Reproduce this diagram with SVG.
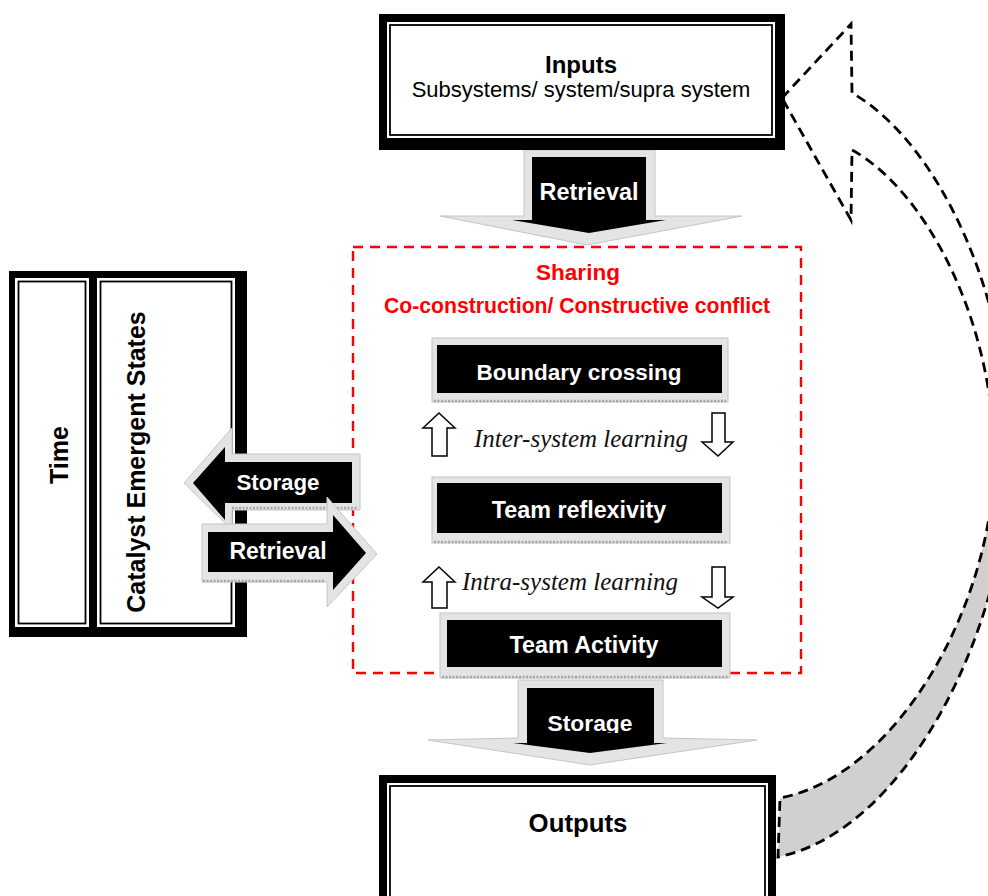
<svg xmlns="http://www.w3.org/2000/svg" width="988" height="896" viewBox="0 0 988 896">
<defs>
<style>
.blk{fill:#000}
.pane{fill:#fff}
.thin{fill:none;stroke:#000;stroke-width:1.8}
.lbl{font-family:"Liberation Sans",Arial,sans-serif;font-weight:bold;text-anchor:middle}
.wt{fill:#fff}
.bevel{fill:#e4e4e4;stroke:#c4c4c4;stroke-width:1}
.bline{fill:none;stroke:#a6a6a6;stroke-width:2.5;stroke-dasharray:2 1.5}
.oarr{fill:#fff;stroke:#000;stroke-width:1.5;stroke-linejoin:miter}
.ital{font-family:"Liberation Serif","Times New Roman",serif;font-style:italic;font-size:25px;fill:#111}
.red{fill:#f00}
.dash{fill:none;stroke:#000;stroke-width:2.8;stroke-dasharray:10 6}
</style>
<clipPath id="clipStor"><rect x="510" y="680" width="160" height="53"/></clipPath>
</defs>
<rect width="988" height="896" fill="#fff"/>

<g id="connectors">
  <g id="feedback-arrow">
    <path d="M1010,455 C1010,620 910,830 778,857 L780,798 C900,775 994,600 994,459 Z" fill="#d0d0d0"/>
    <path class="dash" d="M782,98 L851,24 L852,93 C935,140 1010,290 1010,455 C1010,620 910,830 778,857 L780,798 C900,775 994,600 994,459 C994,320 925,190 852,150 L851,220 Z"/>
  </g>
  <g id="retrieval-top">
    <polygon class="bevel" points="524,150 655,150 655,216 742,216 587,245 440,216 524,216"/>
    <polygon class="blk" points="532,157 646,157 646,220 666,220 589,233 512,220 532,220"/>
    <text class="lbl wt" x="589" y="200" font-size="23.4">Retrieval</text>
  </g>
  <g id="storage-bottom">
    <polygon class="bevel" points="518,680 663,680 663,738 757,740 590,765 428,740 518,738"/>
    <polygon class="blk" points="527,688 654,688 654,743 667,743 590,753 513,743 527,743"/>
    <text class="lbl wt" x="590" y="731" font-size="22.8" clip-path="url(#clipStor)">Storage</text>
  </g>
  <g id="inter-arrows">
    <polygon class="oarr" points="439,413 455,428 447,428 447,456 432,456 432,428 423,428"/>
    <polygon class="oarr" points="712,413 725,413 725,442 733,442 718,456 702,442 712,442"/>
    <polygon class="oarr" points="439,567 455,582 447,582 447,608 432,608 432,582 423,582"/>
    <polygon class="oarr" points="712,567 725,567 725,597 733,597 718,608 702,597 712,597"/>
  </g>
</g>

<g id="inputs">
  <rect class="blk" x="379" y="14" width="406" height="136"/>
  <rect class="pane" x="387" y="22" width="388" height="116"/>
  <rect class="thin" x="390" y="25" width="382" height="110"/>
  <text class="lbl" x="581" y="73" font-size="24">Inputs</text>
  <text x="581" y="97" font-family="Liberation Sans,Arial,sans-serif" font-size="22" text-anchor="middle">Subsystems/ system/supra system</text>
</g>

<g id="sharing">
  <rect x="353" y="247" width="448" height="426" fill="none" stroke="#f00" stroke-width="2.4" stroke-dasharray="10 7"/>
  <text class="lbl red" x="578" y="280" font-size="22.5">Sharing</text>
  <text class="lbl red" x="577" y="313" font-size="21.2">Co-construction/ Constructive conflict</text>
</g>

<g id="boundary-crossing">
  <rect class="bevel" x="432" y="338" width="296" height="64"/>
  <line class="bline" x1="434" y1="401" x2="726" y2="401"/>
  <rect class="blk" x="437" y="345" width="285" height="48"/>
  <text class="lbl wt" x="579" y="380" font-size="22.5">Boundary crossing</text>
</g>
<text class="ital" x="474" y="447">Inter-system learning</text>

<g id="team-reflexivity">
  <rect class="bevel" x="432" y="477" width="298" height="66"/>
  <line class="bline" x1="434" y1="542" x2="728" y2="542"/>
  <rect class="blk" x="437" y="483" width="285" height="50"/>
  <text class="lbl wt" x="579" y="518" font-size="23.3">Team reflexivity</text>
</g>
<text class="ital" x="462" y="590">Intra-system learning</text>

<g id="team-activity">
  <rect class="bevel" x="440" y="613" width="290" height="65"/>
  <line class="bline" x1="442" y1="677" x2="728" y2="677"/>
  <rect class="blk" x="447" y="620" width="275" height="47"/>
  <text class="lbl wt" x="584" y="653" font-size="23.3">Team Activity</text>
</g>

<g id="outputs">
  <rect class="blk" x="379" y="775" width="397" height="130"/>
  <rect class="pane" x="387" y="783" width="381" height="122"/>
  <rect class="thin" x="390" y="786" width="375" height="116"/>
  <text class="lbl" x="578" y="832" font-size="25.8">Outputs</text>
</g>

<g id="time-catalyst">
  <rect class="blk" x="9" y="271" width="238" height="366"/>
  <rect class="pane" x="15" y="278" width="74" height="349"/>
  <rect class="thin" x="18.5" y="281.5" width="67" height="342"/>
  <rect class="pane" x="97" y="278" width="138" height="349"/>
  <rect class="thin" x="100.5" y="281.5" width="131" height="342"/>
  <text class="lbl" transform="translate(68,455) rotate(-90)" font-size="25">Time</text>
  <text class="lbl" transform="translate(145,462) rotate(-90)" font-size="25">Catalyst Emergent States</text>
</g>

<g id="storage-left">
  <polygon class="bevel" points="184,483 232,428 232,454 360,454 360,510 232,510 232,530"/>
  <line class="bline" x1="232" y1="508" x2="358" y2="508"/>
  <polygon class="blk" points="193,483 225,447 225,462 352,462 352,503 225,503 225,520"/>
  <text class="lbl wt" x="278" y="490" font-size="22.3">Storage</text>
</g>
<g id="retrieval-left">
  <polygon class="bevel" points="202,524 327,524 327,497 377,554 327,607 327,582 202,582"/>
  <line class="bline" x1="203" y1="581" x2="325" y2="581"/>
  <polygon class="blk" points="208,532 333,532 333,515 366,553 333,590 333,572 208,572"/>
  <text class="lbl wt" x="278" y="559" font-size="23">Retrieval</text>
</g>
</svg>
